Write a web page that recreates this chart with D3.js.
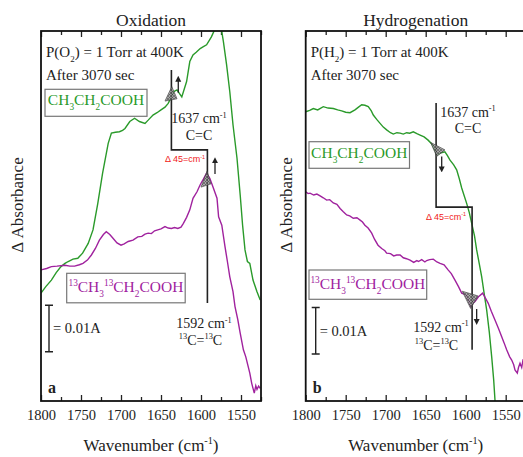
<!DOCTYPE html>
<html lang="en">
<head>
<meta charset="utf-8">
<style>
  body { margin: 0; background: #fff; }
  svg text { fill: #222; }
</style>
</head>
<body>
<script src="https://cdn.jsdelivr.net/npm/d3@7/dist/d3.min.js"></script>
<script>
// x ticks (wavenumber, cm-1)
var majorTicks = [1800, 1750, 1700, 1650, 1600, 1550];
var minorTicks = [1775, 1725, 1675, 1625, 1575, 1525];

// oxidation, CH3CH2COOH   [wavenumber, delta absorbance (mA)]
var oxAcid = [[1800,23.2],[1794,24.6],[1787,26.0],[1781,27.6],[1775,28.9],[1770,29.6],[1766,30.0],[1760,30.5],[1754,30.7],
  [1748,31.8],[1741,33.9],[1735,36.8],[1729,42.5],[1723,49.0],[1716,55.4],[1712,57.6],[1707,57.8],[1702,57.9],[1698,58.2],
  [1695,58.6],[1689,60.1],[1683,60.8],[1677,60.1],[1670,59.7],[1666,60.4],[1660,61.5],[1655,62.0],[1650,62.6],[1645,63.2],
  [1641,64.0],[1637,65.4],[1634.5,66.5],[1630,66.9],[1624,65.4],[1618,68.7],[1614,73.0],[1610,74.4],[1606,75.0],[1601,75.8],
  [1597,76.2],[1593,76.6],[1587,78.3],[1582,80.2],[1578,81.5],[1575.5,81.0],[1572,77.3],[1568,72.3],[1564,66.5],[1560,59.4],
  [1555,52.2],[1551,44.3],[1548,37.8],[1545,32.5],[1542,30.0],[1539,29.6],[1535,26.0],[1530,23.5],[1526,21.7]];

// oxidation, 13CH3 13CH2COOH
var oxLabeled = [[1800,28.2],[1793,28.5],[1787,28.9],[1780,29.0],[1770,29.2],[1764,29.0],[1758,29.0],[1752,29.3],[1747.5,29.6],
  [1742,30.3],[1737,31.4],[1732,32.8],[1727,34.6],[1722,35.8],[1718.4,36.4],[1714,35.8],[1710,35.0],[1705,34.0],[1700,33.5],
  [1696,33.8],[1691,34.3],[1685,34.6],[1679,35.3],[1674,35.4],[1670,35.9],[1666,36.1],[1662,36.0],[1658,36.6],[1654,36.8],
  [1650,37.0],[1645,37.5],[1641,37.2],[1637,37.1],[1633,37.3],[1629,37.1],[1625,37.4],[1622,38.2],[1618,39.5],[1614,41.1],
  [1610,43.6],[1605,45.0],[1601,46.5],[1597,47.7],[1593,49.0],[1589,47.9],[1585,46.0],[1580,43.6],[1578,39.6],[1574,37.8],
  [1570,33.2],[1567,30.0],[1564,26.7],[1560,23.5],[1557.5,20.3],[1554,17.5],[1551,14.6],[1547,11.0],[1544,9.5],[1541,7.4],
  [1539,6.0],[1536.6,3.8],[1533.4,1.7],[1531.5,3.3],[1530,2.5],[1528,3.2],[1526,2.7]];

// hydrogenation, CH3CH2COOH
var hyAcid = [[1800,62.2],[1795,62.5],[1790.5,62.9],[1785,62.6],[1778,63.3],[1772,63.0],[1765.5,62.9],[1760,62.6],[1755,62.4],
  [1750,62.1],[1744.6,62.0],[1738.4,62.6],[1734,63.2],[1730,63.7],[1726,63.6],[1721.8,63.3],[1718,62.4],[1715.5,61.5],
  [1711,60.5],[1707,59.7],[1703,58.9],[1698.8,58.3],[1694,57.7],[1690.5,57.4],[1686,57.7],[1682,57.6],[1678,57.4],
  [1673.8,57.7],[1670,57.6],[1665.5,57.9],[1661,57.5],[1657,57.2],[1652,56.8],[1647,56.1],[1643,55.4],[1640.5,54.7],
  [1638,53.8],[1636.3,52.9],[1632,53.3],[1626,53.6],[1623,52.8],[1619.6,51.8],[1615,50.8],[1611.3,49.7],[1608,47.8],
  [1605,45.8],[1602,44.2],[1598.8,42.5],[1595.5,40.5],[1592.5,38.2],[1589,35.5],[1586.3,32.5],[1583,29.5],[1580,26.7],
  [1577,23.2],[1573.8,19.6],[1570.5,14.8],[1567.5,9.5],[1565,4.5],[1563.4,0.2],[1561,-4]];

// hydrogenation, 13CH3 13CH2COOH
var hyLabeled = [[1800,45.0],[1797,44.6],[1794.6,44.7],[1790,44.3],[1786,44.5],[1782,44.1],[1778,43.7],[1773.8,43.2],[1770,43.3],
  [1765.5,42.6],[1761,42.3],[1757,41.4],[1753,40.7],[1748.8,40.0],[1745,39.8],[1740.5,39.3],[1736,39.4],[1732,38.9],[1729,38.5],
  [1726,37.8],[1722,37.2],[1717.5,36.1],[1714,34.8],[1709.6,33.5],[1705,32.8],[1701,32.3],[1698.8,31.8],[1694,31.7],[1690,31.2],
  [1686.3,31.4],[1682,31.4],[1678,30.8],[1674,30.6],[1669.6,30.3],[1665,29.8],[1661,30.2],[1659,30.0],[1655,30.4],[1651,29.9],
  [1648.8,30.2],[1645,30.4],[1640.5,30.5],[1636,29.9],[1632,29.6],[1627,29.3],[1622,28.2],[1618,27.4],[1613.4,26.0],[1609,24.6],
  [1605,23.2],[1602,23.0],[1598.8,22.6],[1596,21.5],[1593.8,20.3],[1591,21.0],[1588.4,21.4],[1584,22.4],[1578.8,23.2],[1575,22.0],
  [1571.8,21.0],[1568,19.3],[1563.4,17.4],[1559,15.6],[1555,13.8],[1552,12.5],[1548.8,11.0],[1545,9.5],[1542.5,8.8],[1540,7.8],
  [1538.4,6.7],[1535.5,6.0],[1534,7.2],[1532.1,8.1],[1530,7.2],[1528.4,8.8],[1525,8.5]];

var green = "#2a9a2a", purple = "#a0229e";
var serif = "'Liberation Serif', 'Times New Roman', Times, serif";
var top_ = 31, bottom = 401, plotW = 220;

var svg = d3.select("body").append("svg").attr("width", 523).attr("height", 457)
  .style("font-family", serif);
var defs = svg.append("defs");
defs.append("marker").attr("id", "arrow").attr("viewBox", "0 0 10 10")
  .attr("refX", 5).attr("refY", 5).attr("markerWidth", 6).attr("markerHeight", 7)
  .attr("markerUnits", "userSpaceOnUse").attr("orient", "auto")
  .append("path").attr("d", "M0,0L10,5L0,10z").attr("fill", "#222");
var hatch = defs.append("pattern").attr("id", "hatch").attr("patternUnits", "userSpaceOnUse")
  .attr("width", 3).attr("height", 3);
hatch.append("rect").attr("width", 3).attr("height", 3).attr("fill", "#9a9a9a");
hatch.append("path").attr("d", "M0,3L3,0M0,0L3,3").attr("stroke", "#333").attr("stroke-width", 0.6);

// writes text with sub/superscripts, parts = [[string, "sub"|"sup"|null]]
function rich(t, parts, size) {
  var shift = 0;
  t.attr("font-size", size);
  parts.forEach(function(p) {
    var target = 0, fs = size;
    if (p[1] == "sub") { target = size * 0.32; fs = size * 0.6; }
    if (p[1] == "sup") { target = -size * 0.4; fs = size * 0.6; }
    t.append("tspan").attr("dy", target - shift).attr("font-size", fs).text(p[0]);
    shift = target;
  });
}

var panels = [
  { id: "a", left: 41, title: "Oxidation", gas: "O", acid: oxAcid, labeled: oxLabeled,
    step: [71.2, 54.0, 21.1],
    triAcid: [[1645,64.5],[1636.5,67.6],[1630,65.0]], triLab: [[1600,46.0],[1592.5,49.4],[1587.5,46.7]],
    arrAcid: [1628.4, 66.3, 69.3], arrLab: [1582.5, 48.8, 51.8],
    acidBox: [45, 89.3, 102, 27], labBox: [66.7, 273.3, 118.5, 29.5],
    bar: [49, 10.6], yLabelX: 18,
    t1637: [199, 123.3], tcc: [199, 140], tdelta: [185, 162.3], t1592: [204, 328.3], t13cc: [200.5, 345] },
  { id: "b", left: 305.7, title: "Hydrogenation", gas: "H", acid: hyAcid, labeled: hyLabeled,
    step: [64.1, 41.7, 11.0],
    triAcid: [[1643.8,55.6],[1636.3,52.6],[1625.9,54.0]], triLab: [[1604.3,23.6],[1593.8,19.9],[1584.6,22.6]],
    arrAcid: [1630, 52.6, 49.8], arrLab: [1586.3, 19.8, 17.0],
    acidBox: [309, 141.7, 100.5, 26.6], labBox: [309, 270, 117.7, 29.3],
    bar: [315.7, 10.1], yLabelX: 287,
    t1637: [468, 116.7], tcc: [468, 133.3], tdelta: [446, 220], t1592: [441, 331.7], t13cc: [436.5, 350] }
];

panels.forEach(function(p) {
  var x = d3.scaleLinear().domain([1800, 1525]).range([p.left, p.left + plotW]);
  var y = d3.scaleLinear().domain([0, 80]).range([bottom, top_ - 2]);
  var g = svg.append("g");
  var mid = p.left + 110;

  defs.append("clipPath").attr("id", "clip" + p.id).append("rect")
    .attr("x", p.left).attr("y", top_).attr("width", plotW).attr("height", bottom - top_);

  // ticks, inward on bottom and top
  function noDomain(a) { a.select(".domain").remove(); a.attr("font-family", null).attr("font-size", null); }
  g.append("g").attr("transform", "translate(0," + bottom + ")")
    .call(d3.axisBottom(x).tickValues(majorTicks).tickSizeInner(-6).tickSizeOuter(0).tickPadding(9).tickFormat(d3.format("d")))
    .call(noDomain);
  g.append("g").attr("transform", "translate(0," + bottom + ")")
    .call(d3.axisBottom(x).tickValues(minorTicks).tickSizeInner(-4).tickSizeOuter(0).tickFormat(""))
    .call(noDomain);
  g.append("g").attr("transform", "translate(0," + top_ + ")")
    .call(d3.axisTop(x).tickValues(majorTicks).tickSizeInner(-6).tickSizeOuter(0).tickFormat(""))
    .call(noDomain);
  g.append("g").attr("transform", "translate(0," + top_ + ")")
    .call(d3.axisTop(x).tickValues(minorTicks).tickSizeInner(-4).tickSizeOuter(0).tickFormat(""))
    .call(noDomain);
  g.selectAll(".tick line").attr("stroke", "#222").attr("stroke-width", 1.3);
  g.selectAll(".tick text").attr("fill", "#222").attr("font-size", 14.5);

  // spectra
  var line = d3.line().x(function(d) { return x(d[0]); }).y(function(d) { return y(d[1]); });
  var curves = g.append("g").attr("clip-path", "url(#clip" + p.id + ")");
  curves.append("path").datum(p.acid).attr("d", line).attr("fill", "none").attr("stroke", green).attr("stroke-width", 1.4);
  curves.append("path").datum(p.labeled).attr("d", line).attr("fill", "none").attr("stroke", purple).attr("stroke-width", 1.4);

  // shift marker 1637 -> 1592
  g.append("path").datum([[1637, p.step[0]], [1637, p.step[1]], [1592, p.step[1]], [1592, p.step[2]]])
    .attr("d", line).attr("fill", "none").attr("stroke", "#222").attr("stroke-width", 1.6);

  [p.triAcid, p.triLab].forEach(function(tri) {
    g.append("path").datum(tri).attr("d", function(d) { return line(d) + "Z"; })
      .attr("fill", "url(#hatch)").attr("stroke", "#444").attr("stroke-width", 0.8).attr("opacity", 0.85);
  });
  [p.arrAcid, p.arrLab].forEach(function(a) {
    g.append("line").attr("x1", x(a[0])).attr("x2", x(a[0])).attr("y1", y(a[1])).attr("y2", y(a[2]))
      .attr("stroke", "#222").attr("stroke-width", 1.3).attr("marker-end", "url(#arrow)");
  });

  // frame
  g.append("rect").attr("x", p.left).attr("y", top_).attr("width", plotW).attr("height", bottom - top_)
    .attr("fill", "none").attr("stroke", "#111").attr("stroke-width", 1.8);

  // titles
  g.append("text").attr("x", mid).attr("y", 26).attr("text-anchor", "middle").attr("font-size", 17.5).text(p.title);
  var xl = g.append("text").attr("x", mid).attr("y", 451).attr("text-anchor", "middle");
  rich(xl, [["Wavenumber (cm", null], ["-1", "sup"], [")", null]], 17);
  g.append("text").attr("transform", "translate(" + (p.yLabelX + 5) + ",205) rotate(-90)")
    .attr("text-anchor", "middle").attr("font-size", 17).text("\u0394 Absorbance");

  // conditions
  var c1 = g.append("text").attr("x", p.left + 5).attr("y", 57);
  rich(c1, [["P(" + p.gas, null], ["2", "sub"], [") = 1 Torr at 400K", null]], 15);
  g.append("text").attr("x", p.left + 5).attr("y", 80).attr("font-size", 15).text("After 3070 sec");

  // legend boxes
  var b = p.acidBox;
  g.append("rect").attr("x", b[0]).attr("y", b[1]).attr("width", b[2]).attr("height", b[3])
    .attr("fill", "#fff").attr("stroke", "#777").attr("stroke-width", 1.2);
  var t1 = g.append("text").attr("x", b[0] + b[2] / 2).attr("y", b[1] + 16).attr("text-anchor", "middle").style("fill", green);
  rich(t1, [["CH", null], ["3", "sub"], ["CH", null], ["2", "sub"], ["COOH", null]], 15.5);
  b = p.labBox;
  g.append("rect").attr("x", b[0]).attr("y", b[1]).attr("width", b[2]).attr("height", b[3])
    .attr("fill", "#fff").attr("stroke", "#777").attr("stroke-width", 1.2);
  var t2 = g.append("text").attr("x", b[0] + b[2] / 2).attr("y", b[1] + 19).attr("text-anchor", "middle").style("fill", purple);
  rich(t2, [["13", "sup"], ["CH", null], ["3", "sub"], ["13", "sup"], ["CH", null], ["2", "sub"], ["COOH", null]], 15.5);

  // peak labels
  var a1 = g.append("text").attr("x", p.t1637[0]).attr("y", p.t1637[1]).attr("text-anchor", "middle");
  rich(a1, [["1637 cm", null], ["-1", "sup"]], 14);
  g.append("text").attr("x", p.tcc[0]).attr("y", p.tcc[1]).attr("text-anchor", "middle").attr("font-size", 14).text("C=C");
  var dl = g.append("text").attr("x", p.tdelta[0]).attr("y", p.tdelta[1]).attr("text-anchor", "middle")
    .style("font-family", "'Liberation Sans', Arial, sans-serif").style("fill", "#f02020");
  rich(dl, [["\u0394 45=cm", null], ["-1", "sup"]], 9);
  var a2 = g.append("text").attr("x", p.t1592[0]).attr("y", p.t1592[1]).attr("text-anchor", "middle");
  rich(a2, [["1592 cm", null], ["-1", "sup"]], 14);
  var a3 = g.append("text").attr("x", p.t13cc[0]).attr("y", p.t13cc[1]).attr("text-anchor", "middle");
  rich(a3, [["13", "sup"], ["C=", null], ["13", "sup"], ["C", null]], 14);

  // 0.01 A scale bar
  var bx = p.bar[0], y0 = y(p.bar[1]), y1 = y(p.bar[1] + 10);
  g.append("path").attr("d", "M" + (bx - 4) + "," + y0 + "H" + (bx + 4) + "M" + bx + "," + y0 + "V" + y1 + "M" + (bx - 4) + "," + y1 + "H" + (bx + 4))
    .attr("fill", "none").attr("stroke", "#222").attr("stroke-width", 1.4);
  g.append("text").attr("x", bx + 4).attr("y", (y0 + y1) / 2 + 5).attr("font-size", 14.5).text("= 0.01A");

  g.append("text").attr("x", p.left + 7).attr("y", 393).attr("font-size", 16).attr("font-weight", "bold").text(p.id);
});
</script>
</body>
</html>
